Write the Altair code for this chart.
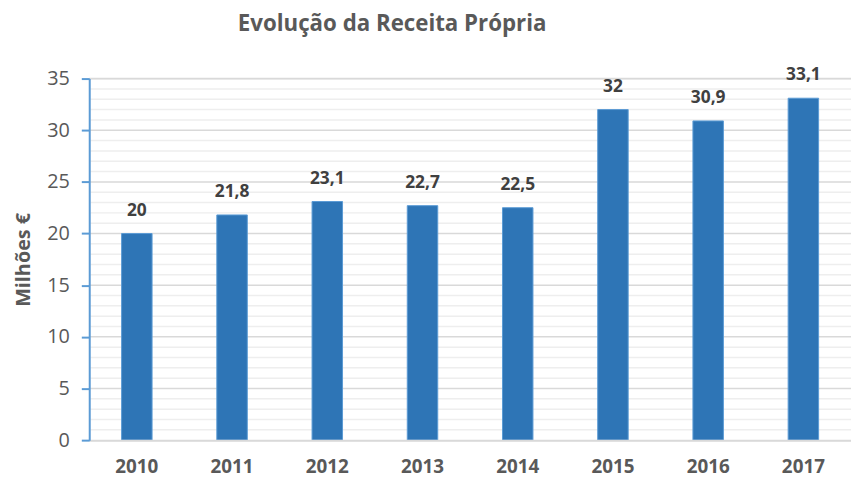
import altair as alt
import pandas as pd

years = ["2010", "2011", "2012", "2013", "2014", "2015", "2016", "2017"]
values = [20, 21.8, 23.1, 22.7, 22.5, 32, 30.9, 33.1]
y_ticks = [0, 5, 10, 15, 20, 25, 30, 35]
minor_grid = [v for v in range(36) if v % 5 != 0]

df = pd.DataFrame({"ano": years, "valor": values})
df["rotulo"] = [("%g" % v).replace(".", ",") for v in values]
minor_df = pd.DataFrame({"g": minor_grid})
major_df = pd.DataFrame({"g": y_ticks[1:]})

FONT = "Open Sans"

x_enc = alt.X(
    "ano:N",
    title=None,
    scale=alt.Scale(paddingInner=0.68, paddingOuter=0.34),
    axis=alt.Axis(
        labelAngle=0,
        labelFont=FONT,
        labelFontSize=19,
        labelFontWeight="bold",
        labelColor="#595959",
        labelPadding=18,
        ticks=False,
        domainColor="#d9d9d9",
        domainWidth=2,
        grid=False,
        zindex=1,
    ),
)
y_scale = alt.Scale(domain=[0, 35], nice=False)

minor = alt.Chart(minor_df).mark_rule(color="#eeeeee", strokeWidth=1.5).encode(
    y=alt.Y("g:Q", scale=y_scale)
)
major = alt.Chart(major_df).mark_rule(color="#d9d9d9", strokeWidth=1.5).encode(
    y=alt.Y("g:Q", scale=y_scale)
)

bars = alt.Chart(df).mark_bar(color="#2E75B6", stroke="#5B9BD5", strokeWidth=1).encode(
    x=x_enc,
    y=alt.Y(
        "valor:Q",
        scale=y_scale,
        title="Milhões €",
        axis=alt.Axis(
            values=y_ticks,
            grid=False,
            labelFont=FONT,
            labelFontSize=20,
            labelColor="#595959",
            labelPadding=12,
            tickColor="#5B9BD5",
            tickSize=8,
            tickWidth=2,
            domainColor="#5B9BD5",
            domainWidth=2,
            titleFont=FONT,
            titleFontSize=20,
            titleFontWeight="bold",
            titleColor="#595959",
            titlePadding=13,
            zindex=1,
        ),
    ),
)

labels = alt.Chart(df).mark_text(
    font=FONT, fontSize=17.5, fontWeight="bold", color="#404040", baseline="bottom", dy=-14
).encode(x=x_enc, y=alt.Y("valor:Q", scale=y_scale), text="rotulo:N")

chart = (
    alt.layer(minor, major, bars, labels)
    .properties(
        width=769,
        height=365,
        autosize=alt.AutoSizeParams(type="none"),
        padding={"left": 82, "top": 69, "right": 0, "bottom": 40},
        title=alt.TitleParams(
            "Evolução da Receita Própria",
            font=FONT,
            fontSize=22.5,
            fontWeight="bold",
            color="#595959",
            anchor="start",
            frame="group",
            dx=150,
            offset=31,
        ),
    )
    .configure_view(stroke=None)
    .configure(background="white")
)

chart.save("out.html", embed_options={"renderer": "svg", "actions": False})
